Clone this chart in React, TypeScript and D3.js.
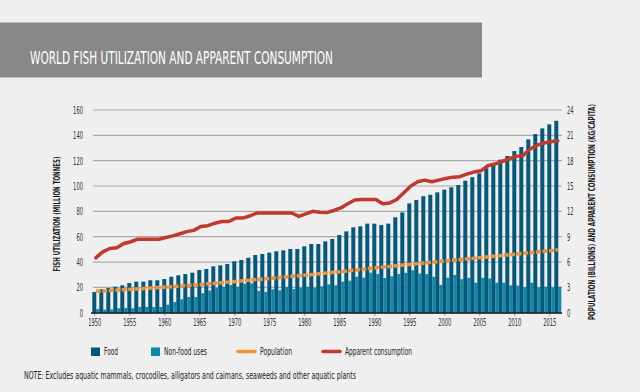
import React, { useEffect, useRef } from "react"
import * as d3 from "d3"

const years = d3.range(1950, 2017)

// million tonnes
const food = [
  16.3, 18.5, 19.5, 20.5, 21.6, 23.4, 24.5, 24.5, 25.6, 25.6,
  26.6, 28.4, 29.5, 30.5, 31.6, 33.7, 34.5, 36.6, 37.4, 38.4,
  40.6, 41.6, 43.4, 45.5, 46.3, 47.4, 48.5, 49.2, 50.3, 50.3,
  52.4, 54.2, 54.2, 56.3, 58.2, 61.3, 64.2, 67.4, 68.2, 70.3,
  70.3, 69.2, 70.3, 75.3, 79.2, 86.3, 89, 92, 93.1, 95,
  97.1, 99, 100.8, 104.2, 106.9, 110, 114, 116.8, 120.8, 123.7,
  127.6, 130.8, 136.8, 141, 145.5, 148.7, 151.5,
]

const nonFood = [
  2.9, 2.4, 2.6, 3.5, 3.7, 3.5, 4.5, 4.5, 4.5, 4.5,
  6.3, 8.4, 10.6, 12.4, 12.4, 15.4, 17.5, 19.7, 20.5, 21.9,
  20.5, 22.9, 23.2, 17.1, 16.3, 18.5, 17.7, 20.3, 18.7, 19.7,
  20.5, 19.7, 20.8, 22.4, 21.6, 24.5, 25.3, 28.4, 27.6, 31.6,
  30.5, 27.4, 28.7, 30.5, 31.5, 33.5, 31, 30.5, 28.4, 21.9,
  27.6, 29.8, 26.4, 27.6, 23.7, 27.6, 27, 23.7, 23.7, 21.6,
  21.4, 20, 23.7, 20, 20.5, 20, 20.5,
]

// billions
const population = [
  2.54, 2.58, 2.63, 2.68, 2.72, 2.77, 2.82, 2.87, 2.93, 2.98,
  3.03, 3.09, 3.15, 3.21, 3.28, 3.35, 3.41, 3.48, 3.55, 3.63,
  3.7, 3.78, 3.85, 3.93, 4.0, 4.08, 4.15, 4.22, 4.3, 4.37,
  4.45, 4.53, 4.61, 4.7, 4.78, 4.86, 4.95, 5.04, 5.13, 5.22,
  5.31, 5.4, 5.48, 5.57, 5.65, 5.73, 5.81, 5.89, 5.97, 6.05,
  6.13, 6.21, 6.29, 6.37, 6.45, 6.53, 6.61, 6.69, 6.77, 6.86,
  6.94, 7.02, 7.11, 7.19, 7.27, 7.35, 7.44,
]

// kg/capita
const consumption = [
  6.5, 7.2, 7.6, 7.7, 8.2, 8.4, 8.7, 8.7, 8.7, 8.7,
  8.9, 9.1, 9.35, 9.6, 9.75, 10.2, 10.3, 10.6, 10.8, 10.8,
  11.2, 11.2, 11.45, 11.8, 11.8, 11.8, 11.8, 11.8, 11.8, 11.4,
  11.7, 12.0, 11.9, 11.85, 12.1, 12.4, 12.9, 13.35, 13.4, 13.4,
  13.4, 12.9, 13.0, 13.4, 14.2, 15.0, 15.5, 15.7, 15.5, 15.7,
  15.9, 16.05, 16.1, 16.4, 16.65, 16.8, 17.4, 17.6, 17.9, 18.2,
  18.5, 18.6, 19.35, 19.8, 20.1, 20.25, 20.35,
]

const leftTicks = [0, 20, 40, 60, 80, 100, 120, 140, 160]
const rightTicks = [0, 3, 6, 9, 12, 15, 18, 21, 24]
const yearTicks = [1950, 1955, 1960, 1965, 1970, 1975, 1980, 1985, 1990, 1995, 2000, 2005, 2010, 2015]

const legendItems = ["Food", "Non-food uses", "Population", "Apparent consumption"]

const FONT = "'Liberation Sans Narrow', 'DejaVu Sans Condensed', 'Roboto Condensed', sans-serif"
const C_FOOD = "#05587b"
const C_NONFOOD = "#0a8aa7"
const C_POP = "#f0923a"
const C_CONS = "#c0392f"

const App = () => {
  const ref = useRef<SVGSVGElement | null>(null)

  useEffect(() => {
    const svg = d3.select(ref.current)
    svg.selectAll("*").remove()

    const x = d3
      .scaleBand<number>()
      .domain(years)
      .range([92.3, 561.3])
      .padding(0)
    const bw = x.bandwidth()
    const yL = d3.scaleLinear().domain([0, 160]).range([312.7, 110])
    const yR = d3.scaleLinear().domain([0, 24]).range([312.7, 110])

    // squeeze numeric labels like the condensed face in the original
    const squeeze = (sel: any) =>
      sel
        .style("font-family", FONT)
        .style("font-size", "10.5px")
        .attr("fill", "#333")
        .attr("textLength", function (this: SVGTextElement) {
          return (this.textContent || "").length * 3.3
        })
        .attr("lengthAdjust", "spacingAndGlyphs")

    svg.append("rect").attr("width", 640).attr("height", 392).attr("fill", "#efefef")

    // title banner
    svg.append("rect").attr("x", 0).attr("y", 22.5).attr("width", 482).attr("height", 55).attr("fill", "#888888")
    svg
      .append("text")
      .attr("x", 30)
      .attr("y", 64)
      .attr("fill", "#fff")
      .style("font-family", FONT)
      .style("font-size", "17px")
      .attr("textLength", 303)
      .attr("lengthAdjust", "spacingAndGlyphs")
      .text("WORLD FISH UTILIZATION AND APPARENT CONSUMPTION")

    // gridlines
    svg
      .append("g")
      .selectAll("line")
      .data(leftTicks.filter((d) => d > 0))
      .join("line")
      .attr("x1", 93)
      .attr("x2", 562)
      .attr("y1", (d) => yL(d))
      .attr("y2", (d) => yL(d))
      .attr("stroke", (d) => (d === 160 ? "#cccccc" : "#a9a9a9"))
      .attr("stroke-width", (d) => (d === 160 ? 2 : 1.2))

    // left axis
    const gl = svg
      .append("g")
      .attr("transform", "translate(83,0)")
      .call(d3.axisLeft(yL).tickValues(leftTicks).tickSize(0).tickPadding(0))
    gl.select(".domain").remove()
    squeeze(gl.selectAll("text"))

    // right axis
    const gr = svg
      .append("g")
      .attr("transform", "translate(566,0)")
      .call(d3.axisRight(yR).tickValues(rightTicks).tickSize(0).tickPadding(1))
    gr.select(".domain").remove()
    squeeze(gr.selectAll("text"))

    // bars: non-food sits just right of the food bar in each year slot
    svg
      .append("g")
      .selectAll("rect")
      .data(years)
      .join("rect")
      .attr("x", (d) => x(d)! + 4)
      .attr("width", bw - 4)
      .attr("y", (d, i) => yL(nonFood[i]))
      .attr("height", (d, i) => yL(0) - yL(nonFood[i]))
      .attr("fill", C_NONFOOD)
    svg
      .append("g")
      .selectAll("rect")
      .data(years)
      .join("rect")
      .attr("x", (d) => x(d)!)
      .attr("width", 4)
      .attr("y", (d, i) => yL(food[i]))
      .attr("height", (d, i) => yL(0) - yL(food[i]))
      .attr("fill", C_FOOD)

    // x axis
    const gx = svg
      .append("g")
      .attr("transform", "translate(0,313)")
      .call(
        d3
          .axisBottom(d3.scaleLinear().domain([1950, 2016]).range([x(1950)! + 2, x(2016)! + 2]))
          .tickValues(yearTicks)
          .tickFormat((d) => `${d}`)
          .tickSize(3)
          .tickPadding(3)
      )
    gx.select(".domain").remove()
    gx.selectAll("line").attr("stroke", "#999")
    squeeze(gx.selectAll("text"))
    svg.append("line").attr("x1", 91).attr("x2", 562).attr("y1", 313).attr("y2", 313).attr("stroke", "#111").attr("stroke-width", 1.5)

    // lines
    const cx = (d: number) => x(d)! + bw / 2
    const popLine = d3.line<number>().x((d) => cx(d)).y((d, i) => yR(population[i]))
    svg
      .append("path")
      .attr("d", popLine(years)!)
      .attr("fill", "none")
      .attr("stroke", C_POP)
      .attr("stroke-width", 3.5)
      .attr("stroke-dasharray", "5,1.5")
    const consLine = d3.line<number>().x((d) => cx(d)).y((d, i) => yR(consumption[i]))
    svg
      .append("path")
      .attr("d", consLine(years)!)
      .attr("fill", "none")
      .attr("stroke", C_CONS)
      .attr("stroke-width", 3.5)
      .attr("stroke-linecap", "round")
      .attr("stroke-linejoin", "round")

    // axis titles
    svg
      .append("text")
      .attr("transform", "translate(60,214) rotate(-90)")
      .attr("text-anchor", "middle")
      .style("font-family", FONT)
      .style("font-size", "8.5px")
      .style("font-weight", "bold")
      .attr("fill", "#222")
      .attr("textLength", 115)
      .attr("lengthAdjust", "spacingAndGlyphs")
      .text("FISH UTILIZATION (MILLION TONNES)")
    svg
      .append("text")
      .attr("transform", "translate(595,212) rotate(-90)")
      .attr("text-anchor", "middle")
      .style("font-family", FONT)
      .style("font-size", "8.5px")
      .style("font-weight", "bold")
      .attr("fill", "#222")
      .attr("textLength", 216)
      .attr("lengthAdjust", "spacingAndGlyphs")
      .text("POPULATION (BILLIONS) AND APPARENT CONSUMPTION (KG/CAPITA)")

    // legend
    const lg = svg.append("g").style("font-family", FONT).style("font-size", "10px").attr("fill", "#222")
    const textX = [104, 164, 260, 345]
    const textW = [14, 43, 32, 67]
    lg.append("rect").attr("x", 91).attr("y", 347.5).attr("width", 9).attr("height", 8.5).attr("fill", C_FOOD)
    lg.append("rect").attr("x", 151).attr("y", 347.5).attr("width", 9).attr("height", 8.5).attr("fill", C_NONFOOD)
    lg.append("line").attr("x1", 238).attr("x2", 255).attr("y1", 351.5).attr("y2", 351.5).attr("stroke", C_POP).attr("stroke-width", 3.5).attr("stroke-linecap", "round")
    lg.append("line").attr("x1", 323).attr("x2", 340).attr("y1", 351.5).attr("y2", 351.5).attr("stroke", C_CONS).attr("stroke-width", 3.5).attr("stroke-linecap", "round")
    lg.selectAll("text")
      .data(legendItems)
      .join("text")
      .attr("x", (d, i) => textX[i])
      .attr("y", 355)
      .attr("textLength", (d, i) => textW[i])
      .attr("lengthAdjust", "spacingAndGlyphs")
      .text((d) => d)

    svg
      .append("text")
      .attr("x", 24)
      .attr("y", 379)
      .style("font-family", FONT)
      .style("font-size", "10px")
      .attr("fill", "#222")
      .attr("textLength", 332)
      .attr("lengthAdjust", "spacingAndGlyphs")
      .text("NOTE: Excludes aquatic mammals, crocodiles, alligators and caimans, seaweeds and other aquatic plants")
  }, [])

  return (
    <svg
      ref={ref}
      width={640}
      height={392}
      style={{ position: "absolute", left: 0, top: 0, display: "block" }}
    ></svg>
  )
}

export default App
